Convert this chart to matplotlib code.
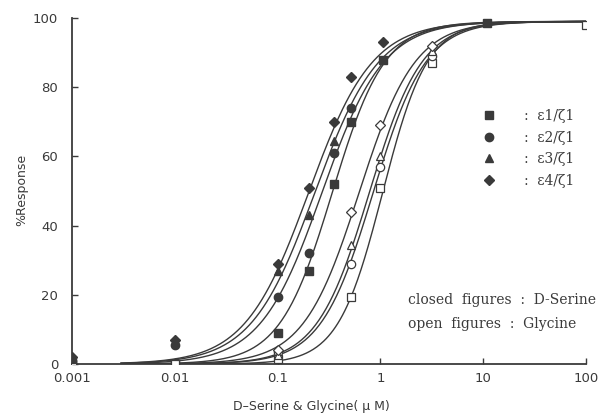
import numpy as np
import matplotlib
matplotlib.use("Agg")
import matplotlib.pyplot as plt
from matplotlib.lines import Line2D

# ---------------- data ----------------
series_names = ["\u03b51/\u03b61", "\u03b52/\u03b61", "\u03b53/\u03b61", "\u03b54/\u03b61"]
markers = ["s", "o", "^", "D"]

# D-Serine (closed figures)
ds_x = {
    "s": [0.001, 0.01, 0.1, 0.2, 0.35, 0.52, 1.05, 11.0],
    "o": [0.001, 0.01, 0.1, 0.2, 0.35, 0.52],
    "^": [0.001, 0.1, 0.2, 0.35],
    "D": [0.001, 0.01, 0.1, 0.2, 0.35, 0.52, 1.05],
}
ds_y = {
    "s": [0.5, 0.0, 9.0, 27.0, 52.0, 70.0, 88.0, 98.5],
    "o": [1.0, 5.5, 19.5, 32.0, 61.0, 74.0],
    "^": [1.5, 27.0, 43.0, 64.5],
    "D": [2.0, 7.0, 29.0, 51.0, 70.0, 83.0, 93.0],
}
# Glycine (open figures)
gly_x = {
    "s": [0.001, 0.01, 0.1, 0.52, 1.0, 3.2, 100.0],
    "o": [0.001, 0.1, 0.52, 1.0, 3.2],
    "^": [0.1, 0.52, 1.0, 3.2],
    "D": [0.1, 0.52, 1.0, 3.2],
}
gly_y = {
    "s": [0.0, 0.0, 1.5, 19.5, 51.0, 87.0, 98.0],
    "o": [0.0, 3.5, 29.0, 57.0, 89.0],
    "^": [2.5, 34.5, 60.0, 90.5],
    "D": [4.0, 44.0, 69.0, 92.0],
}
# fitted Hill-curve parameters
hill_top = 99.0
ds_ec50 = {"s": 0.34, "o": 0.27, "^": 0.23, "D": 0.20}
ds_nh = {"s": 1.7, "o": 1.45, "^": 1.4, "D": 1.4}
gly_ec50 = {"s": 1.05, "o": 0.85, "^": 0.78, "D": 0.62}
gly_nh = {"s": 2.0, "o": 1.7, "^": 1.7, "D": 1.6}

xticks = [0.001, 0.01, 0.1, 1, 10, 100]
xticklabels = ["0.001", "0.01", "0.1", "1", "10", "100"]
yticks = [0, 20, 40, 60, 80, 100]

# ---------------- drawing ----------------
ink = "#3a3a3a"
W, H = 613, 415
fig = plt.figure(figsize=(W / 100, H / 100), dpi=100)
ax = fig.add_axes([72 / W, 1 - 364 / H, (586 - 72) / W, (364 - 18) / H])

def hill(x, ec50, nh):
    return hill_top * x ** nh / (x ** nh + ec50 ** nh)

xc = np.logspace(np.log10(0.003), 2, 400)
for m in markers:
    ax.plot(xc, hill(xc, ds_ec50[m], ds_nh[m]), color=ink, lw=1.0, zorder=2)
    ax.plot(xc, hill(xc, gly_ec50[m], gly_nh[m]), color=ink, lw=1.0, zorder=2)

msz = {"s": 5.5, "o": 6, "^": 6, "D": 5}
for m in markers:
    ax.plot(ds_x[m], ds_y[m], ls="none", marker=m, ms=msz[m], mfc=ink, mec=ink, zorder=4)
    ax.plot(gly_x[m], gly_y[m], ls="none", marker=m, ms=msz[m], mfc="white", mec=ink,
            mew=0.9, zorder=4)

ax.set_xscale("log")
ax.set_xlim(0.001, 100)
ax.set_ylim(0, 100)
ax.set_xticks(xticks)
ax.set_xticklabels(xticklabels)
ax.xaxis.set_minor_locator(matplotlib.ticker.NullLocator())
ax.set_yticks(yticks)
for s in ["top", "right"]:
    ax.spines[s].set_visible(False)
for s in ["left", "bottom"]:
    ax.spines[s].set_color(ink)
    ax.spines[s].set_linewidth(1.3)
ax.tick_params(direction="in", length=4, width=1, color=ink, labelcolor=ink,
               labelsize=9.5, pad=6)
ax.tick_params(axis="y", pad=10)

fig.text(311 / W, 1 - 406 / H, "D\u2013Serine & Glycine( \u03bc M)", ha="center", va="center",
         fontsize=9, color=ink)
fig.text(22 / W, 1 - 190 / H, "%Response", rotation=90, ha="center", va="center",
         fontsize=9, color=ink)

handles = [Line2D([], [], ls="none", marker=m, ms=msz[m], mfc=ink, mec=ink) for m in markers]
labels = [":  " + n for n in series_names]
leg = ax.legend(handles, labels, loc="upper left", frameon=False,
                bbox_to_anchor=(482 / W, 1 - 109 / H), bbox_transform=fig.transFigure,
                borderpad=0, borderaxespad=0, handlelength=1.0, handletextpad=2.0,
                labelspacing=0.55, prop={"family": "DejaVu Serif", "size": 10})
for t in leg.get_texts():
    t.set_color(ink)

fig.text(408 / W, 1 - 300 / H, "closed  figures  :  D-Serine", ha="left", va="center",
         fontsize=10, family="DejaVu Serif", color=ink)
fig.text(408 / W, 1 - 324 / H, "open  figures  :  Glycine", ha="left", va="center",
         fontsize=10, family="DejaVu Serif", color=ink)

fig.savefig("out.png", dpi=100)
